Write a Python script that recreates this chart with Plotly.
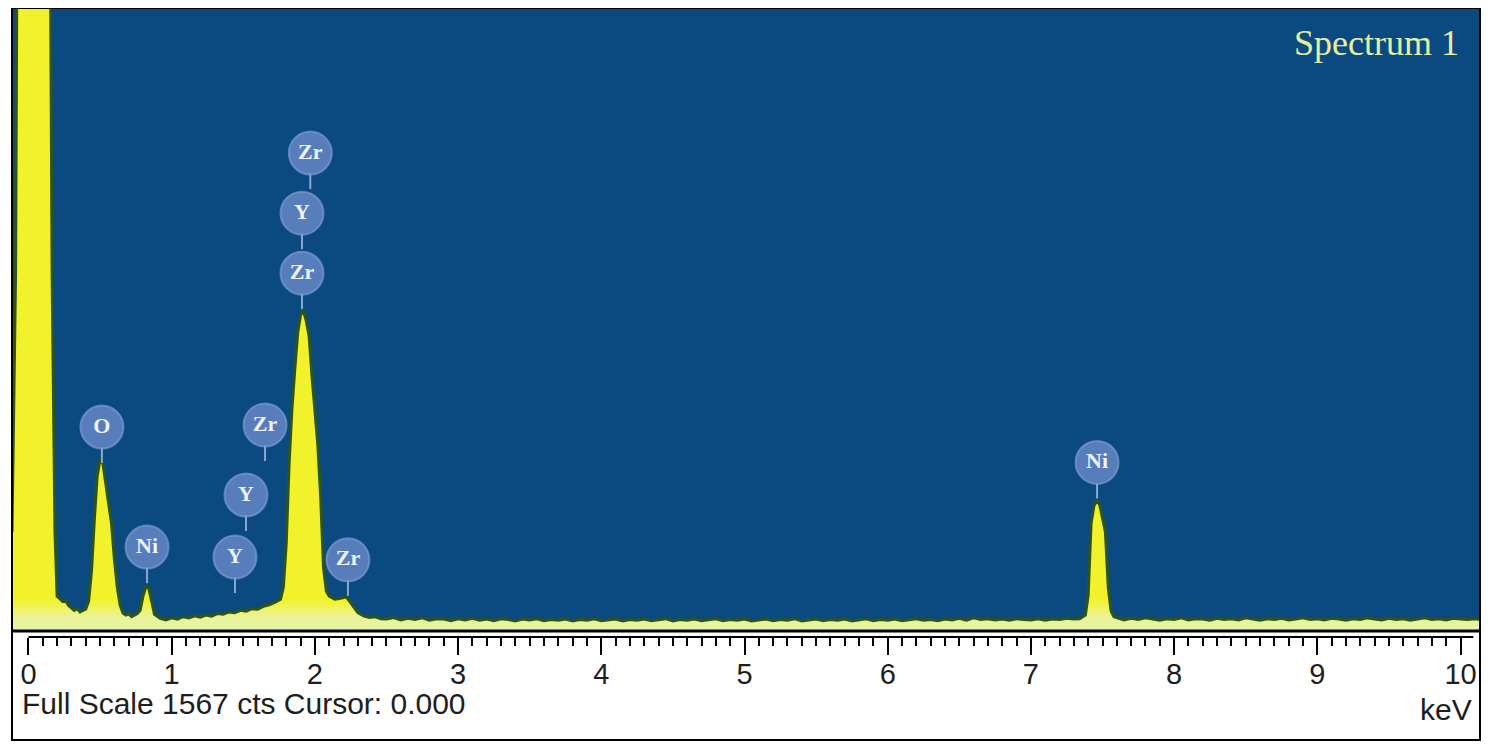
"""
EDS spectrum (Spectrum 1) recreated with plotly.
"""

import plotly.graph_objects as go

# spectrum: energy (keV) and counts
energy = [
    -0.115, -0.09, -0.07, 0.00, 0.10, 0.14, 0.165, 0.185,
    0.20, 0.22, 0.24, 0.26, 0.28, 0.30, 0.32, 0.34, 0.36, 0.38,
    0.40, 0.42, 0.44, 0.46, 0.48, 0.50, 0.52, 0.54, 0.56, 0.58,
    0.60, 0.62, 0.64, 0.66, 0.68, 0.70, 0.72, 0.74,
    0.76, 0.78, 0.80, 0.82, 0.84, 0.86, 0.88,
    0.92, 0.96, 1.00, 1.04, 1.08, 1.12, 1.16, 1.20, 1.24, 1.28,
    1.32, 1.36, 1.40, 1.44, 1.48, 1.52, 1.56, 1.60, 1.64, 1.68, 1.72,
    1.76, 1.78, 1.80, 1.82, 1.84, 1.86, 1.88, 1.90, 1.92, 1.94,
    1.96, 1.98, 2.00, 2.02, 2.04, 2.06, 2.08, 2.10,
    2.14, 2.18, 2.22, 2.26, 2.30, 2.34, 2.38, 2.42, 2.46,
    2.50, 2.55, 2.60, 2.65, 2.70, 2.75, 2.80, 2.85, 2.90, 2.95,
    3.00, 3.05, 3.10, 3.15, 3.20, 3.25, 3.30, 3.35, 3.40, 3.45,
    3.50, 3.55, 3.60, 3.65, 3.70, 3.75, 3.80, 3.85, 3.90, 3.95,
    4.00, 4.05, 4.10, 4.15, 4.20, 4.25, 4.30, 4.35, 4.40, 4.45,
    4.50, 4.55, 4.60, 4.65, 4.70, 4.75, 4.80, 4.85, 4.90, 4.95,
    5.00, 5.05, 5.10, 5.15, 5.20, 5.25, 5.30, 5.35, 5.40, 5.45,
    5.50, 5.55, 5.60, 5.65, 5.70, 5.75, 5.80, 5.85, 5.90, 5.95,
    6.00, 6.05, 6.10, 6.15, 6.20, 6.25, 6.30, 6.35, 6.40, 6.45,
    6.50, 6.55, 6.60, 6.65, 6.70, 6.75, 6.80, 6.85, 6.90, 6.95,
    7.00, 7.05, 7.10, 7.15, 7.20, 7.25, 7.30,
    7.34, 7.38, 7.40, 7.42, 7.44, 7.46, 7.48, 7.50, 7.52, 7.54,
    7.56, 7.58, 7.62,
    7.65, 7.70, 7.75, 7.80, 7.85, 7.90, 7.95, 8.00, 8.05, 8.10,
    8.15, 8.20, 8.25, 8.30, 8.35, 8.40, 8.45, 8.50, 8.55, 8.60,
    8.65, 8.70, 8.75, 8.80, 8.85, 8.90, 8.95, 9.00, 9.05, 9.10,
    9.15, 9.20, 9.25, 9.30, 9.35, 9.40, 9.45, 9.50, 9.55, 9.60,
    9.65, 9.70, 9.75, 9.80, 9.85, 9.90, 9.95, 10.00, 10.05, 10.10,
    10.15,
]
counts = [
    250, 900, 2600, 4000, 4000, 2600, 900, 250,
    88, 82, 74, 76, 64, 58, 52, 56, 48, 52,
    55, 75, 150, 280, 390, 432, 420, 370, 320, 270,
    180, 110, 65, 45, 40, 43, 36, 41,
    44, 52, 88, 112, 108, 75, 42,
    32, 28, 33, 30, 36, 33, 38, 35, 40, 37,
    44, 42, 48, 46, 52, 50, 56, 55, 62, 66, 72,
    80, 110, 220, 420, 560, 660, 750, 795, 805, 780,
    740, 640, 560, 470, 340, 160, 100, 88,
    80, 82, 86, 66, 46, 38, 34, 36, 31,
    30, 34, 28, 32, 29, 33, 27, 31, 30, 26,
    31, 28, 32, 27, 30, 26, 31, 29, 25, 30,
    28, 31, 26, 29, 27, 30, 25, 29, 27, 31,
    26, 28, 30, 25, 29, 27, 30, 26, 28, 31,
    25, 29, 27, 30, 26, 28, 31, 26, 29, 27,
    30, 25, 28, 30, 26, 29, 27, 31, 25, 28,
    30, 26, 29, 27, 30, 25, 28, 31, 26, 29,
    27, 30, 26, 28, 31, 27, 29, 26, 30, 28,
    32, 27, 33, 29, 31, 28, 30, 27, 31, 29,
    28, 31, 27, 30, 29, 32, 30,
    31, 40, 90, 270, 315, 328, 318, 285, 250, 110,
    50, 36, 31,
    28, 32, 29, 33, 30, 27, 31, 29, 33, 28,
    31, 30, 27, 32, 29, 31, 28, 33, 30, 27,
    31, 29, 32, 28, 30, 33, 29, 31, 28, 32,
    30, 27, 31, 29, 33, 30, 28, 32, 29, 31,
    27, 30, 33, 29, 31, 28, 32, 30, 29, 31,
    28,
]

# element markers: label, energy (keV), height (counts)
label_text = ["Zr", "Y", "Zr", "O", "Zr", "Y", "Ni", "Y", "Zr", "Ni"]
label_kev = [1.968, 1.910, 1.910, 0.513, 1.652, 1.519, 0.828, 1.442, 2.231, 7.462]
label_cts = [1202, 1051, 900, 513, 518, 342, 211, 186, 179, 424]

full_scale = 1567
x_range = [-0.115, 10.136]
x_ticks = [0, 1, 2, 3, 4, 5, 6, 7, 8, 9, 10]
x_minor = [i / 10 for i in range(1, 100) if i % 10]

cts_per_px = full_scale / 623.0

# short stems below each circle
stem_x, stem_y = [], []
for k, c in zip(label_kev, label_cts):
    stem_x += [k, k, None]
    stem_y += [c - 20 * cts_per_px, c - 36 * cts_per_px, None]

fig = go.Figure()

fig.add_trace(go.Scatter(
    x=energy,
    y=counts,
    mode="lines",
    line=dict(color="#2e5518", width=3),
    fill="tozeroy",
    fillgradient=dict(
        type="vertical",
        start=0,
        stop=full_scale,
        colorscale=[[0, "#e6f3a8"], [0.022, "#eaf39a"],
                    [0.05, "#f2f22c"], [1, "#f2f22c"]],
    ),
    hoverinfo="skip",
))

fig.add_trace(go.Scatter(
    x=stem_x,
    y=stem_y,
    mode="lines",
    line=dict(color="#88a8d4", width=2),
    hoverinfo="skip",
))

fig.add_trace(go.Scatter(
    x=label_kev,
    y=label_cts,
    mode="markers+text",
    text=label_text,
    textposition="middle center",
    textfont=dict(family="Liberation Serif", size=22, color="#eef3ff",
                  weight="bold"),
    marker=dict(size=43, color="rgba(98,132,194,0.88)",
                line=dict(color="rgba(135,165,215,0.6)", width=2)),
    cliponaxis=False,
    hoverinfo="skip",
))

# the page body has an 8px margin, so margins are trimmed to match
fig.update_layout(
    width=1490,
    height=751,
    margin=dict(l=4, r=18, t=0, b=19),
    paper_bgcolor="white",
    plot_bgcolor="#0a4a81",
    showlegend=False,
    xaxis=dict(
        domain=[0, 1],
        range=x_range,
        anchor="free",
        position=0.1407,
        tickmode="array",
        tickvals=x_ticks,
        ticks="outside",
        ticklen=17,
        tickwidth=2,
        tickcolor="black",
        minor=dict(tickmode="array", tickvals=x_minor, ticks="outside",
                   ticklen=8, tickwidth=2, tickcolor="black"),
        showline=False,
        showgrid=False,
        zeroline=False,
        ticklabelstandoff=-6,
        tickfont=dict(family="Liberation Sans", size=29, color="#1e1e1e"),
    ),
    yaxis=dict(
        domain=[0.1489, 1],
        range=[0, full_scale],
        showticklabels=False,
        ticks="",
        showgrid=False,
        zeroline=False,
        showline=False,
    ),
    shapes=[
        # ruler line
        dict(type="line", xref="x", yref="paper", x0=0, x1=10.09,
             y0=0.1407, y1=0.1407, line=dict(color="black", width=2)),
        # separator under the spectrum
        dict(type="line", xref="paper", yref="paper", x0=0, x1=1,
             y0=0.1489, y1=0.1489, line=dict(color="black", width=3)),
        # outer frame
        dict(type="rect", xref="paper", yref="paper", x0=0, x1=1,
             y0=0, y1=1, line=dict(color="black", width=2)),
    ],
    annotations=[
        dict(text="Full Scale 1567 cts Cursor: 0.000", xref="paper", yref="paper",
             x=0.0055, y=0.0505, xanchor="left", yanchor="middle", showarrow=False,
             font=dict(family="Liberation Sans", size=30, color="#1e1e1e")),
        dict(text="keV", xref="paper", yref="paper",
             x=0.9959, y=0.0423, xanchor="right", yanchor="middle", showarrow=False,
             font=dict(family="Liberation Sans", size=30, color="#1e1e1e")),
        dict(text="Spectrum 1", xref="paper", yref="paper",
             x=0.9871, y=0.9522, xanchor="right", yanchor="middle", showarrow=False,
             font=dict(family="Liberation Serif", size=36, color="#e4f0a0")),
    ],
)

fig.write_html("out.html")
